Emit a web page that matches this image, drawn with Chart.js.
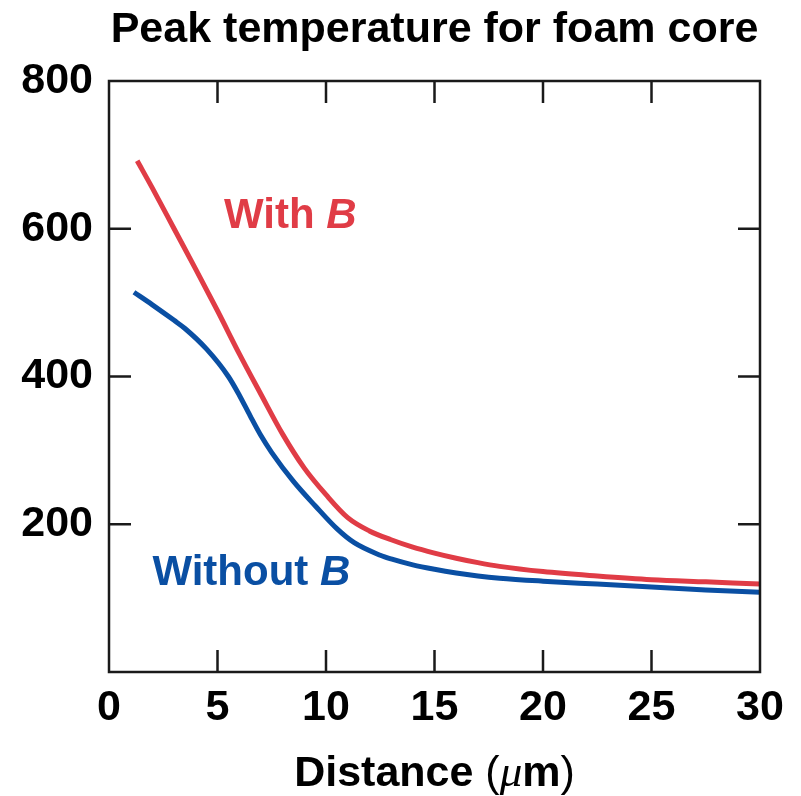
<!DOCTYPE html>
<html>
<head>
<meta charset="utf-8">
<script src="https://cdn.jsdelivr.net/npm/chart.js@4"></script>
<style>
  html, body { margin: 0; padding: 0; background: #fff; }
  #chartBox { display: block; }
</style>
</head>
<body>
<canvas id="chartBox" width="801" height="796"></canvas>
<script>
// distance in micrometres, peak temperature (eV)
const distWithB = [1.3, 2, 3, 4, 5, 6, 7, 8, 9, 10, 11, 12, 13, 14, 15, 16, 17, 18, 20, 22.5, 25, 27.5, 30]
const tempWithB = [692, 655, 600, 545, 489, 431, 376, 322, 276, 240, 209, 191, 179, 169, 161, 154, 148, 143, 136, 130, 125, 122, 119]

const distWithoutB = [1.15, 2, 3, 3.5, 4.5, 5.5, 6, 6.5, 7, 7.5, 8.5, 9.5, 10.5, 11.3, 12.5, 13, 14, 15, 16, 17, 18, 20, 22.5, 25, 27.5, 30]
const tempWithoutB = [514, 497, 476, 465, 437, 400, 375, 347, 320, 297, 258, 225, 194, 175, 158, 153, 145, 139, 134, 130, 127, 123, 119, 115, 111, 108]

const xTicks = [0, 5, 10, 15, 20, 25, 30]
const yTicks = [0, 200, 400, 600, 800]

const titleText = 'Peak temperature for foam core'
const seriesNames = ['With ', 'Without ']

const RED = '#e03c46'
const BLUE = '#0a4fa3'
const INK = '#1a1a1a'
const FONT = '"Liberation Sans", Arial, sans-serif'

// where the series names sit, in data units (left edge, baseline)
const namePos = [{ x: 5.3, y: 601 }, { x: 2.0, y: 118 }]

const toPoints = (xs, ys) => xs.map((x, i) => ({ x, y: ys[i] }))

// draw a row of text pieces with their own fonts, starting at x
const drawRuns = (ctx, runs, x, y, align) => {
    let total = 0
    runs.forEach(r => { ctx.font = r.font; total += ctx.measureText(r.text).width })
    let cx = align === 'center' ? x - total / 2 : x
    ctx.textAlign = 'left'
    ctx.textBaseline = 'alphabetic'
    runs.forEach(r => {
        ctx.font = r.font
        ctx.fillStyle = r.color
        ctx.fillText(r.text, cx, y)
        cx += ctx.measureText(r.text).width
    })
}

const framePlugin = {
    id: 'frame',
    afterDatasetsDraw(chart) {
        const { ctx, chartArea: a, scales } = chart
        const len = 22
        ctx.save()
        ctx.strokeStyle = INK
        ctx.lineWidth = 2.5
        ctx.strokeRect(a.left, a.top, a.right - a.left, a.bottom - a.top)
        ctx.beginPath()
        xTicks.slice(1, -1).forEach(v => {
            const px = scales.x.getPixelForValue(v)
            ctx.moveTo(px, a.bottom); ctx.lineTo(px, a.bottom - len)
            ctx.moveTo(px, a.top); ctx.lineTo(px, a.top + len)
        })
        yTicks.slice(1, -1).forEach(v => {
            const py = scales.y.getPixelForValue(v)
            ctx.moveTo(a.left, py); ctx.lineTo(a.left + len, py)
            ctx.moveTo(a.right, py); ctx.lineTo(a.right - len, py)
        })
        ctx.stroke()
        ctx.restore()
    },
    afterDraw(chart) {
        const { ctx, chartArea: a, scales } = chart
        const mid = (a.left + a.right) / 2
        ctx.save()
        drawRuns(ctx, [{ text: titleText, font: `bold 43px ${FONT}`, color: '#000' }], mid, 42, 'center')
        drawRuns(ctx, [
            { text: 'Distance ', font: `bold 43px ${FONT}`, color: '#000' },
            { text: '(', font: `43px ${FONT}`, color: '#000' },
            { text: '\u03bc', font: `italic 45px "Liberation Serif", serif`, color: '#000' },
            { text: 'm', font: `bold 43px ${FONT}`, color: '#000' },
            { text: ')', font: `43px ${FONT}`, color: '#000' }
        ], mid, 786, 'center')
        const colors = [RED, BLUE]
        namePos.forEach((p, i) => {
            drawRuns(ctx, [
                { text: seriesNames[i], font: `bold 42px ${FONT}`, color: colors[i] },
                { text: 'B', font: `italic bold 42px ${FONT}`, color: colors[i] }
            ], scales.x.getPixelForValue(p.x), scales.y.getPixelForValue(p.y), 'left')
        })
        ctx.restore()
    }
}

const context = document.querySelector('#chartBox').getContext('2d')
const chart = new Chart(context, {
    type: 'line',
    data: {
        datasets: [{
            label: 'With B',
            data: toPoints(distWithB, tempWithB),
            borderColor: RED,
            borderWidth: 5,
            pointRadius: 0,
            cubicInterpolationMode: 'monotone'
        }, {
            label: 'Without B',
            data: toPoints(distWithoutB, tempWithoutB),
            borderColor: BLUE,
            borderWidth: 5,
            pointRadius: 0,
            cubicInterpolationMode: 'monotone'
        }]
    },
    options: {
        responsive: false,
        animation: false,
        devicePixelRatio: 1,
        layout: { padding: { top: 81, right: 41, left: 0, bottom: 0 } },
        plugins: {
            legend: { display: false },
            tooltip: { enabled: false },
            title: { display: false }
        },
        scales: {
            x: {
                type: 'linear',
                min: 0,
                max: 30,
                afterBuildTicks: s => { s.ticks = xTicks.map(value => ({ value })) },
                afterFit: s => { s.height = 124 },
                grid: { display: false, drawTicks: false },
                border: { display: false },
                ticks: { color: '#000', padding: 10, maxRotation: 0, font: { family: FONT, size: 43, weight: 'bold' } }
            },
            y: {
                min: 0,
                max: 800,
                afterBuildTicks: s => { s.ticks = yTicks.map(value => ({ value })) },
                afterFit: s => { s.width = 109 },
                grid: { display: false, drawTicks: false },
                border: { display: false },
                ticks: {
                    color: '#000',
                    padding: 16,
                    font: { family: FONT, size: 43, weight: 'bold' },
                    callback: v => v === 0 ? '' : v
                }
            }
        }
    },
    plugins: [framePlugin]
})
</script>
</body>
</html>
